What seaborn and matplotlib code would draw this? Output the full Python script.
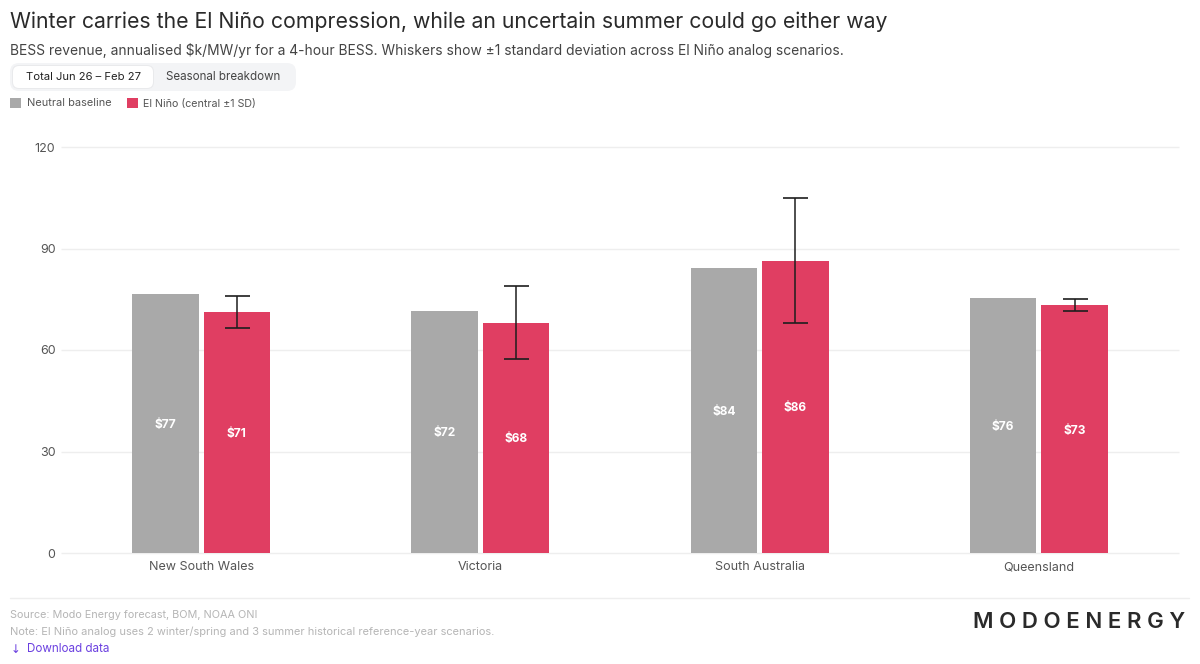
import matplotlib
matplotlib.use("Agg")
import matplotlib.pyplot as plt
from matplotlib.patches import FancyBboxPatch, Rectangle
from matplotlib.transforms import Affine2D
import pandas as pd
import seaborn as sns

# values, $k/MW/yr
regions = ["New South Wales", "Victoria", "South Australia", "Queensland"]
neutral = [76.6, 71.5, 84.2, 75.5]
el_nino = [71.2, 68.0, 86.3, 73.2]
sd_low = [66.5, 57.3, 68.1, 71.5]
sd_high = [76.0, 78.8, 104.8, 75.0]
neutral_labels = ["$77", "$72", "$84", "$76"]
el_nino_labels = ["$71", "$68", "$86", "$73"]
y_ticks = [0, 30, 60, 90, 120]
series_names = ["Neutral baseline", "El Niño (central ±1 SD)"]

W, H = 1200, 664
GREY = "#a9a9a9"
RED = "#e03e62"
FONT = "Inter"

sns.set_theme(style="white")
plt.rcParams["font.family"] = [FONT, "DejaVu Sans"]
plt.rcParams["text.parse_math"] = False

df = pd.DataFrame({
    "region": regions * 2,
    "value": neutral + el_nino,
    "series": [series_names[0]] * 4 + [series_names[1]] * 4,
})

fig = plt.figure(figsize=(W / 100, H / 100), dpi=100, facecolor="white")
# axes placed in pixels: x 61.5-1178.5, y 147 (120) to 553 (0)
ax = fig.add_axes([61.5 / W, 1 - 553 / H, 1117 / W, (553 - 147) / H])

sns.barplot(data=df, x="region", y="value", hue="series", order=regions,
            palette=[GREY, RED], width=0.512, gap=0.07, saturation=1,
            linewidth=0, legend=False, zorder=3, ax=ax)

ax.set_xlim(-0.5, 3.5)
ax.set_ylim(0, 120)
ax.set_xlabel("")
ax.set_ylabel("")
ax.set_yticks(y_ticks)
ax.tick_params(axis="both", length=0, labelsize=9.0, labelcolor="#555555")
ax.tick_params(axis="x", pad=12.6)
ax.tick_params(axis="y", pad=4.4)
for tick_label in ax.get_xticklabels():
    tick_label.set_verticalalignment("baseline")
ax.grid(axis="y", color="#eeeeee", linewidth=1.0, zorder=0, clip_on=False,
        solid_capstyle="butt")
ax.set_axisbelow(True)
sns.despine(ax=ax, left=True, top=True, right=True, bottom=True)

# labels in the middle of each bar, whiskers on the red bars
for container, labels in zip(ax.containers, [neutral_labels, el_nino_labels]):
    ax.bar_label(container, labels=labels, label_type="center", color="white",
                 fontsize=8.6, fontweight="bold", padding=-1)

red_x = [b.get_x() + b.get_width() / 2 for b in ax.containers[1]]
red_y = [b.get_height() for b in ax.containers[1]]
ax.errorbar(red_x, red_y,
            yerr=[[v - l for v, l in zip(red_y, sd_low)],
                  [h - v for v, h in zip(red_y, sd_high)]],
            fmt="none", ecolor="#1e1e1e", elinewidth=1.1, capsize=9,
            capthick=1.2, zorder=4)

# everything outside the axes is placed in pixels from the top left
px = Affine2D().scale(1, -1).translate(0, H)


def put_text(x, y, s, size, color, ha="left", **kw):
    fig.text(x, y, s, transform=px, fontsize=size, color=color, ha=ha,
             va="center", **kw)


def put_box(x, y, w, h, color, radius, **kw):
    fig.add_artist(FancyBboxPatch((x + radius, y + radius), w - 2 * radius, h - 2 * radius,
                                  boxstyle=f"round,pad={radius},rounding_size={radius}",
                                  transform=px, facecolor=color, edgecolor="none", **kw))


put_text(10, 21.5, "Winter carries the El Niño compression, while an uncertain summer could go either way",
         15.3, "#2a2a2a")
put_text(10, 50, "BESS revenue, annualised $k/MW/yr for a 4-hour BESS. Whiskers show ±1 standard deviation across El Niño analog scenarios.",
         9.95, "#444444")

# tab switcher
put_box(10, 63, 286, 28, "#f3f4f6", 9)
put_box(12, 65, 142, 24, "#e9eaec", 7)
put_box(13, 66, 140, 22, "white", 6)
put_text(83.5, 77.5, "Total Jun 26 – Feb 27", 8.1, "#222222", ha="center")
put_text(223.5, 77.5, "Seasonal breakdown", 8.3, "#444444", ha="center")

# legend
fig.add_artist(Rectangle((10, 98), 11, 10, transform=px, facecolor=GREY, edgecolor="none"))
put_text(27, 103.5, series_names[0], 7.9, "#555555")
fig.add_artist(Rectangle((127, 98), 11, 10, transform=px, facecolor=RED, edgecolor="none"))
put_text(143, 103.5, series_names[1], 7.7, "#555555")

# footer
fig.add_artist(plt.Line2D([10, 1189], [598, 598], transform=px, color="#eeeeee", linewidth=1.0))
put_text(10, 614.5, "Source: Modo Energy forecast, BOM, NOAA ONI", 7.8, "#b5b5b5")
put_text(10, 631.5, "Note: El Niño analog uses 2 winter/spring and 3 summer historical reference-year scenarios.",
         7.95, "#b5b5b5")
put_text(11, 649.5, "↓", 8.4, "#6a3fe0", family=["DejaVu Sans"])
put_text(27, 649.5, "Download data", 8.4, "#6a3fe0")
put_text(1185, 622, "M O D O E N E R G Y", 16, "#2a2a2a", ha="right", fontweight="semibold")

fig.savefig("out.png", dpi=100)
